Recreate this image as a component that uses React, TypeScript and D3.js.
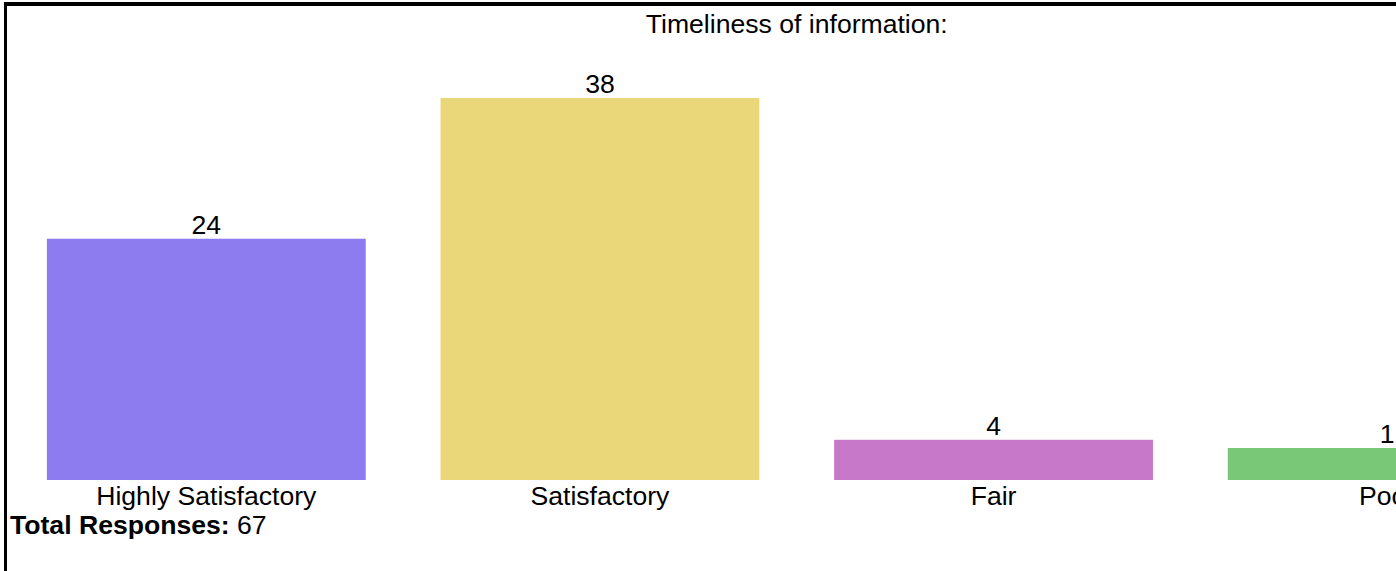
import { useEffect, useRef } from "react"
import * as d3 from "d3"

const categories = ["Highly Satisfactory", "Satisfactory", "Fair", "Poor"]
const counts = [24, 38, 4, 1]
const colors = ["#8c7cf0", "#ead779", "#c878c8", "#78c878"]
const title = "Timeliness of information:"
const totalLabel = "Total Responses:"
const totalValue = 67

export default function App() {
  const svgRef = useRef<SVGSVGElement | null>(null)

  useEffect(() => {
    if (!svgRef.current) return

    const width = 1396
    const height = 571
    const font = "'Liberation Sans', Arial, Helvetica, sans-serif"
    const fs = 26.6

    const svg = d3.select(svgRef.current).attr("width", width).attr("height", height)
    svg.selectAll("*").remove()

    svg.append("rect").attr("width", width).attr("height", height).attr("fill", "#fff")

    // frame (top + left edges only are visible)
    svg.append("rect").attr("x", 4).attr("y", 2).attr("width", width).attr("height", 4).attr("fill", "#000")
    svg.append("rect").attr("x", 4).attr("y", 2).attr("width", 3).attr("height", height).attr("fill", "#000")

    const x = d3
      .scaleBand<string>()
      .domain(categories)
      .range([9.5, 1584])
      .paddingInner(0.19)
      .paddingOuter(0.095)

    const baseline = 480
    const y = d3
      .scaleLinear()
      .domain([0, d3.max(counts) ?? 0])
      .range([baseline, 98])

    const minBar = 32
    const data = categories.map((c, i) => ({ c, v: counts[i], color: colors[i] }))
    const top = (v: number) => baseline - Math.max(baseline - y(v), minBar)

    svg
      .append("text")
      .attr("x", (x.range()[0] + x.range()[1]) / 2)
      .attr("y", 32.5)
      .attr("text-anchor", "middle")
      .attr("font-family", font)
      .attr("font-size", fs)
      .attr("fill", "#000")
      .text(title)

    svg
      .append("g")
      .selectAll("rect")
      .data(data)
      .join("rect")
      .attr("x", d => x(d.c) ?? 0)
      .attr("y", d => top(d.v))
      .attr("width", x.bandwidth())
      .attr("height", d => baseline - top(d.v))
      .attr("fill", d => d.color)

    svg
      .append("g")
      .selectAll("text")
      .data(data)
      .join("text")
      .attr("x", d => (x(d.c) ?? 0) + x.bandwidth() / 2)
      .attr("y", d => top(d.v) - 5)
      .attr("text-anchor", "middle")
      .attr("font-family", font)
      .attr("font-size", fs)
      .attr("fill", "#000")
      .text(d => d.v)

    svg
      .append("g")
      .selectAll("text")
      .data(data)
      .join("text")
      .attr("x", d => (x(d.c) ?? 0) + x.bandwidth() / 2)
      .attr("y", 505)
      .attr("text-anchor", "middle")
      .attr("font-family", font)
      .attr("font-size", fs)
      .attr("fill", "#000")
      .text(d => d.c)

    const total = svg
      .append("text")
      .attr("x", 10)
      .attr("y", 534)
      .attr("font-family", font)
      .attr("font-size", fs)
      .attr("fill", "#000")
    total.append("tspan").attr("font-weight", "bold").text(totalLabel)
    total.append("tspan").text(" " + totalValue)
  }, [])

  return (
    <div style={{ position: "fixed", left: 0, top: 0, width: 1396, height: 571, overflow: "hidden" }}>
      <svg ref={svgRef} style={{ display: "block" }} />
    </div>
  )
}
